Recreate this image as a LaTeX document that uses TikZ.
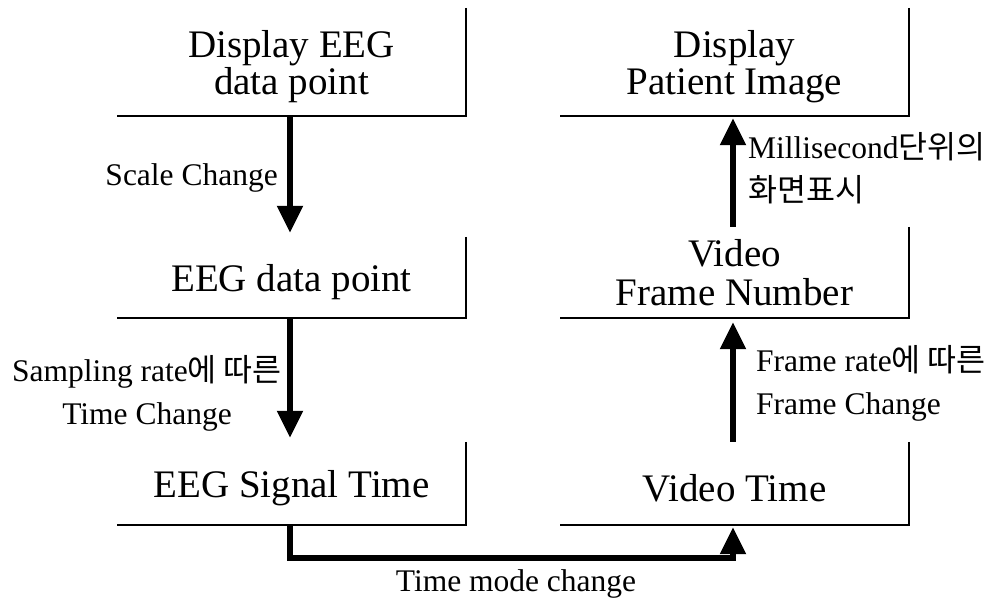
\documentclass[tikz,border=0pt]{standalone}
\usepackage{fontspec}
\setmainfont{Liberation Serif}
\newfontfamily\kr{Noto Sans CJK KR}
\usetikzlibrary{arrows.meta}
\newcommand\boxdn{\rule{0pt}{37pt}}
\begin{document}
\begin{tikzpicture}[x=1pt,y=-1pt,
  box/.style={minimum width=349pt, inner sep=0pt, align=center,
    font=\fontsize{39}{37}\selectfont},
  frame/.style={line width=1.5pt},
  lab/.style={inner sep=0pt, font=\fontsize{31.5}{43}\selectfont},
  flow/.style={line width=5.5pt, -{Triangle[length=27pt,width=25pt]}}]
\useasboundingbox (0,0) rectangle (996,601);
% left column
\node[box, minimum height=108pt] (b1) at (291.5,62) {\boxdn Display EEG\\data point};
\node[box, minimum height=81pt] (b2) at (291.5,277.5) {\boxdn EEG data point};
\node[box, minimum height=83pt] (b3) at (291.5,483.5) {\boxdn EEG Signal Time};
% right column
\node[box, minimum height=108pt] (r1) at (734.5,62) {\boxdn Display\\Patient Image};
\node[box, minimum height=91pt, font=\fontsize{39}{39}\selectfont] (r2) at (734.5,272.5) {Video\\Frame Number};
\node[box, minimum height=83pt] (r3) at (734.5,483.5) {\boxdn Video Time};
% partial frames (right and bottom edges)
\foreach \n in {b1,b2,b3,r1,r2,r3}
  \draw[frame] (\n.north east) -- (\n.south east) -- (\n.south west);
% arrows
\draw[flow, shorten >=4pt] ([xshift=-1.5pt]b1.south) -- ([xshift=-1.5pt]b2.north);
\draw[flow, shorten >=4pt] ([xshift=-1.5pt]b2.south) -- ([xshift=-1.5pt]b3.north);
\draw[flow, shorten >=4pt] ([xshift=-1.5pt]r3.north) -- ([xshift=-1.5pt]r2.south);
\draw[flow, shorten >=2pt] ([xshift=-1.5pt]r2.north) -- ([xshift=-1.5pt]r1.south);
\draw[flow, shorten >=2pt] ([xshift=-1.5pt]b3.south) -- ++(0,33) -| ([xshift=-1.5pt]r3.south);
% labels
\node[lab, anchor=base east] (l1) at (278,186) {Scale Change};
\node[lab, align=center] (l2) at (147,393) {Sampling rate{\kr 에 따른}\\Time Change};
\node[lab, align=left, anchor=west] (l3) at (756,383) {Frame rate{\kr 에 따른}\\Frame Change};
\node[lab, align=left, anchor=west] (l4) at (748,168) {Millisecond{\kr 단위의}\\{\kr 화면표시}};
\node[lab] (l5) at (516,584) {Time mode change};
\end{tikzpicture}
\end{document}
